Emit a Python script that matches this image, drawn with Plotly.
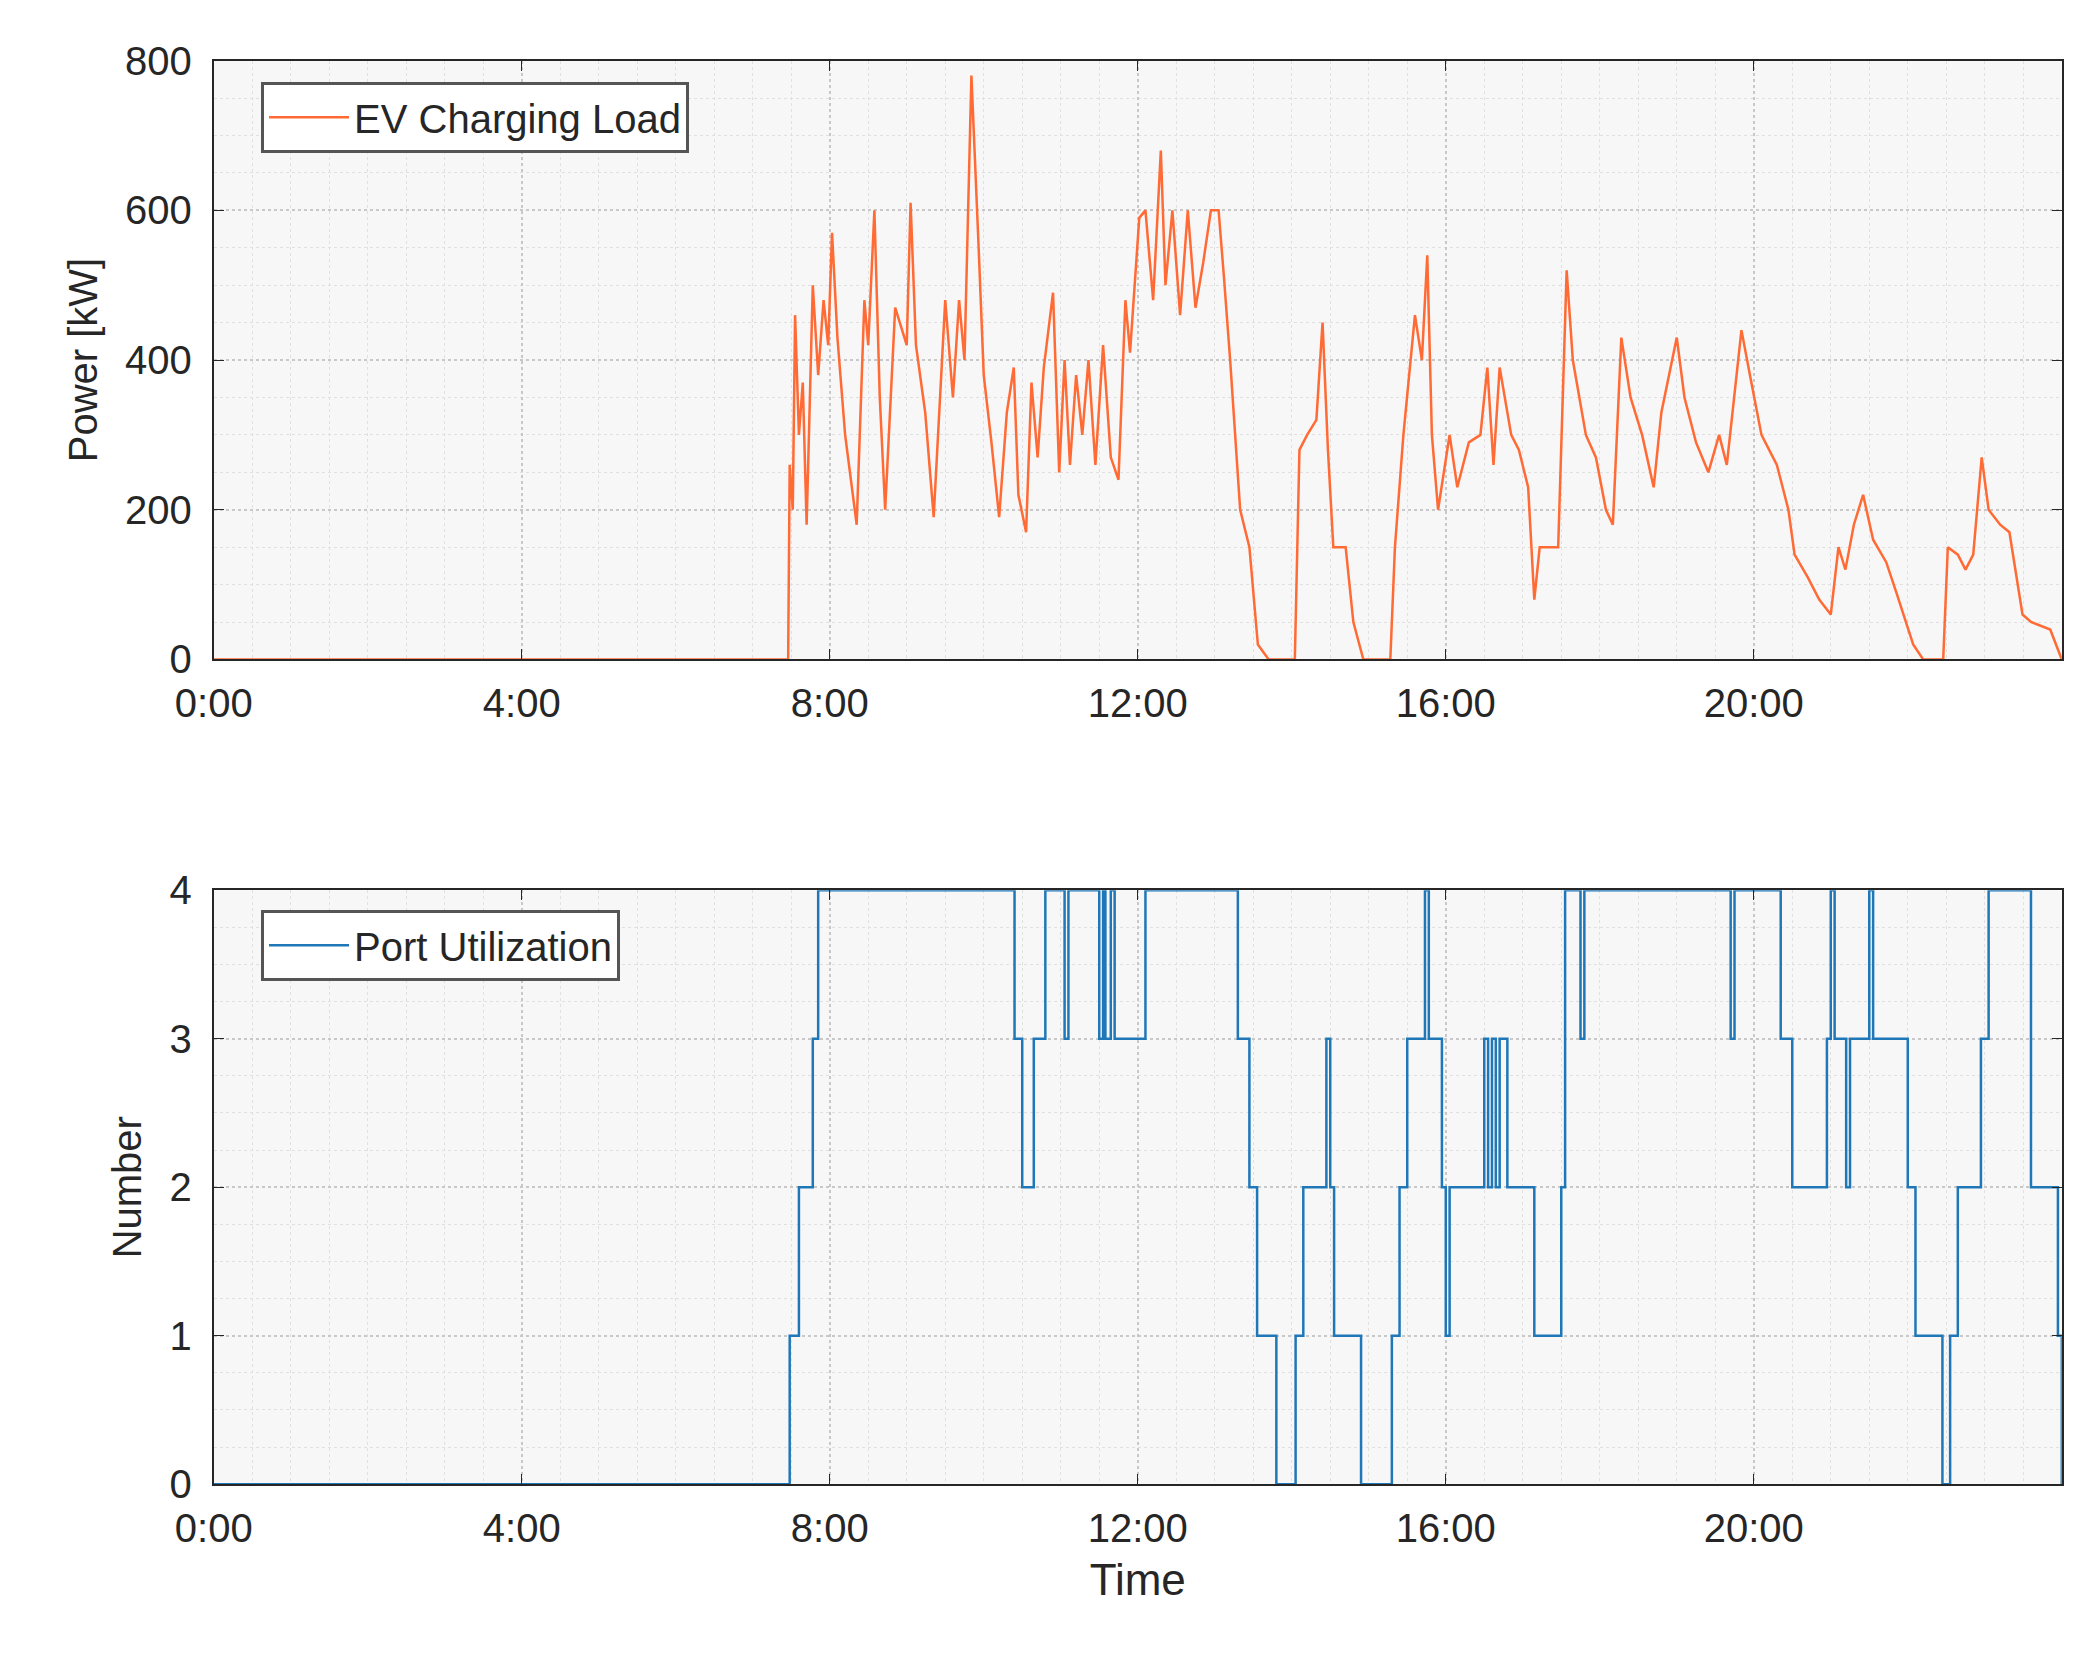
import plotly.graph_objects as go
from plotly.subplots import make_subplots

# EV charging load (hour, kW)
load_t = [0, 7.46, 7.48, 7.52, 7.55, 7.6, 7.65, 7.7, 7.78, 7.85, 7.92, 7.98, 8.03, 8.1, 8.2, 8.35, 8.45, 8.5, 8.58, 8.65, 8.72,
          8.85, 9.0, 9.05, 9.12, 9.24, 9.35, 9.5, 9.6, 9.68, 9.75, 9.84, 9.93, 10.0, 10.1, 10.2, 10.3, 10.39, 10.45, 10.55,
          10.62, 10.7, 10.78, 10.9, 10.98, 11.05, 11.12, 11.2, 11.28, 11.36, 11.45, 11.55, 11.65, 11.75, 11.84, 11.9, 12.02,
          12.1, 12.2, 12.3, 12.36, 12.45, 12.55, 12.65, 12.75, 12.85, 12.95, 13.05, 13.12, 13.2, 13.33, 13.45, 13.56, 13.7,
          13.79, 14.04, 14.1, 14.2, 14.32, 14.4, 14.47, 14.54, 14.7, 14.8, 14.93, 15.28, 15.34, 15.45, 15.6, 15.69, 15.76,
          15.82, 15.9, 16.05, 16.15, 16.3, 16.45, 16.54, 16.62, 16.7, 16.85, 16.95, 17.07, 17.15, 17.22, 17.46, 17.57, 17.65,
          17.82, 17.95, 18.08, 18.17, 18.28, 18.4, 18.55, 18.7, 18.8, 19.0, 19.1, 19.25, 19.41, 19.55, 19.65, 19.84, 19.95,
          20.1, 20.3, 20.45, 20.53, 20.7, 20.85, 21.0, 21.1, 21.19, 21.3, 21.42, 21.55, 21.72, 21.85, 22.0, 22.07, 22.2,
          22.46, 22.52, 22.65, 22.75, 22.85, 22.96, 23.05, 23.2, 23.32, 23.49, 23.6, 23.85, 24.0]
load_kw = [0, 0, 260, 200, 460, 300, 370, 180, 500, 380, 480, 420, 570, 430, 300, 180, 480, 420, 600, 350, 200,
           470, 420, 610, 420, 330, 190, 480, 350, 480, 400, 780, 560, 380, 290, 190, 330, 390, 220, 170,
           370, 270, 390, 490, 250, 400, 260, 380, 300, 400, 260, 420, 270, 240, 480, 410, 590,
           600, 480, 680, 500, 600, 460, 600, 470, 530, 600, 600, 510, 400, 200, 150, 20, 0,
           0, 0, 280, 300, 320, 450, 280, 150, 150, 50, 0, 0, 150, 300, 460, 400, 540,
           300, 200, 300, 230, 290, 300, 390, 260, 390, 300, 280, 230, 80, 150, 150, 520, 400,
           300, 270, 200, 180, 430, 350, 300, 230, 330, 430, 350, 290, 250, 300, 260, 440, 380,
           300, 260, 200, 140, 110, 80, 60, 150, 120, 180, 220, 160, 130, 90, 40, 20, 0,
           0, 150, 140, 120, 140, 270, 200, 180, 170, 60, 50, 40, 0]

# Port utilization (hour, ports in use)
port_t = [0, 7.48, 7.6, 7.78, 7.85, 10.4, 10.5, 10.65, 10.8, 11.05, 11.1, 11.5, 11.55, 11.58, 11.65, 11.7, 12.1,
          13.3, 13.45, 13.55, 13.8, 14.05, 14.15, 14.45, 14.5, 14.55, 14.9, 15.3, 15.4, 15.5, 15.73, 15.78, 15.95,
          16.0, 16.05, 16.5, 16.55, 16.6, 16.65, 16.7, 16.8, 17.15, 17.5, 17.55, 17.75, 17.8, 19.7, 19.75, 20.35,
          20.5, 20.95, 21.0, 21.05, 21.2, 21.25, 21.5, 21.55, 22.0, 22.1, 22.45, 22.55, 22.65, 22.95, 23.05, 23.6,
          23.95, 24.0]
port_n = [0, 1, 2, 3, 4, 3, 2, 3, 4, 3, 4, 3, 4, 3, 4, 3, 4,
          3, 2, 1, 0, 1, 2, 3, 2, 1, 0, 1, 2, 3, 4, 3, 2,
          1, 2, 3, 2, 3, 2, 3, 2, 1, 2, 4, 3, 4, 3, 4, 3,
          2, 3, 4, 3, 2, 3, 4, 3, 2, 1, 0, 1, 2, 3, 4, 2,
          1, 0]

x_ticks = [0, 4, 8, 12, 16, 20, 24]
x_labels = ["0:00", "4:00", "8:00", "12:00", "16:00", "20:00", "24:00"]

fig = make_subplots(rows=2, cols=1)
fig.add_trace(go.Scatter(x=load_t, y=load_kw, mode="lines", name="EV Charging Load", showlegend=True,
                         line=dict(color="#ff6a35", width=2.5)), row=1, col=1)
fig.add_trace(go.Scatter(x=port_t, y=port_n, mode="lines", name="Port Utilization", line_shape="hv",
                         showlegend=True, line=dict(color="#1f77b8", width=2.5), legend="legend2"), row=2, col=1)

font = dict(family="Liberation Sans, Arial", size=40, color="#262626")
ax_common = dict(showline=True, linecolor="#262626", linewidth=2, mirror="ticks", ticks="inside", ticklen=10,
                 tickcolor="#262626", showgrid=True, gridcolor="#c8c8c8", griddash="dot", gridwidth=1.5,
                 zeroline=False, tickfont=font)
minor = dict(showgrid=True, gridcolor="#e0e0e0", griddash="dot", gridwidth=1, ticks="")
for r in (1, 2):
    fig.update_xaxes(range=[0, 24], tickvals=x_ticks, ticktext=x_labels, minor=dict(dtick=0.5, **minor),
                     ticklabelstandoff=8, row=r, col=1, **ax_common)
fig.update_xaxes(title=dict(text="Time", font=dict(size=44, family="Liberation Sans, Arial", color="#262626")),
                 row=2, col=1)
fig.update_yaxes(range=[0, 800], dtick=200, minor=dict(dtick=50, **minor), row=1, col=1, ticklabelstandoff=12,
                 title=dict(text="Power [kW]", font=font), **ax_common)
fig.update_yaxes(range=[0, 4], dtick=1, minor=dict(dtick=0.25, **minor), row=2, col=1, ticklabelstandoff=12,
                 title=dict(text="Number", font=font), **ax_common)

fig.update_layout(
    width=2097, height=1658, margin=dict(l=0, r=0, t=0, b=0),
    paper_bgcolor="white", plot_bgcolor="#f7f7f7",
    xaxis=dict(domain=[0.081, 0.979]), xaxis2=dict(domain=[0.081, 0.979]),
    yaxis=dict(domain=[0.610, 0.981]), yaxis2=dict(domain=[0.099, 0.467]),
    legend=dict(x=0.104, y=0.968, xanchor="left", yanchor="top", bgcolor="white", itemwidth=80,
                bordercolor="#555", borderwidth=3, font=font),
    legend2=dict(x=0.104, y=0.455, xanchor="left", yanchor="top", bgcolor="white", itemwidth=80,
                 bordercolor="#555", borderwidth=3, font=font),
)
fig.write_html("out.html")
